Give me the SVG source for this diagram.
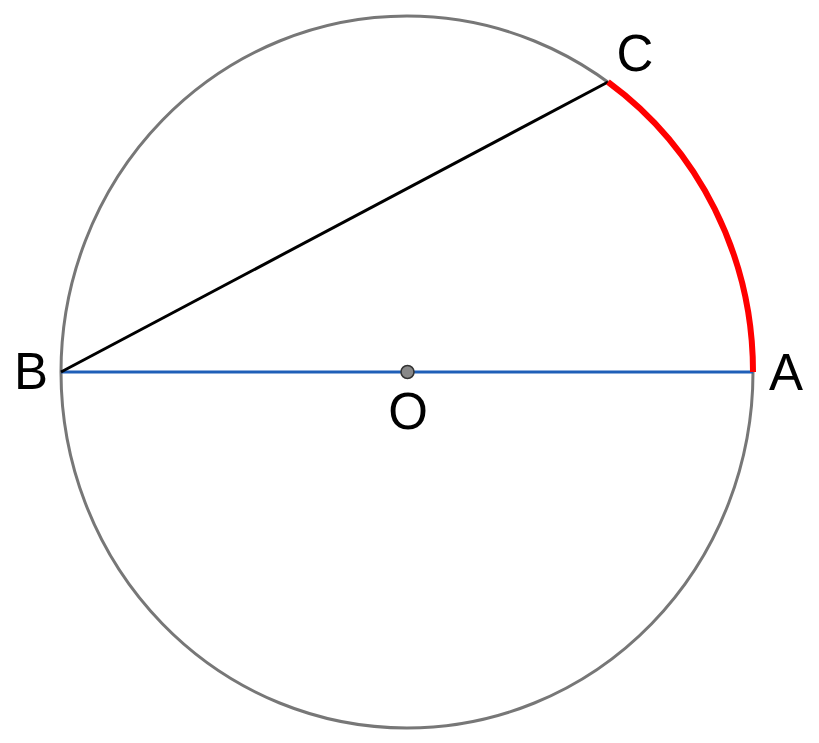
<svg xmlns="http://www.w3.org/2000/svg" width="819" height="743" viewBox="0 0 819 743">
<style>
.lbl{font-family:"Liberation Sans",Arial,sans-serif;font-size:51px;fill:#000;text-anchor:middle}
</style>
<rect width="819" height="743" fill="#fff"/>
<g id="circle"><ellipse cx="407" cy="372" rx="346" ry="356" fill="none" stroke="#777" stroke-width="3"/></g>
<g id="connectors">
<line x1="61" y1="372" x2="753" y2="372" stroke="#1f5fb8" stroke-width="3"/>
<line x1="61" y1="372" x2="608" y2="82" stroke="#000" stroke-width="3"/>
<path d="M608 82 A346 356 0 0 1 753 372" fill="none" stroke="#f00" stroke-width="6"/>
</g>
<g id="O"><circle cx="407.5" cy="372" r="6.5" fill="#888" stroke="#333" stroke-width="1.5"/><text class="lbl" x="408" y="429">O</text></g>
<g id="A"><text class="lbl" x="786" y="390">A</text></g>
<g id="B"><text class="lbl" x="31" y="389">B</text></g>
<g id="C"><text class="lbl" x="635" y="71">C</text></g>
</svg>
